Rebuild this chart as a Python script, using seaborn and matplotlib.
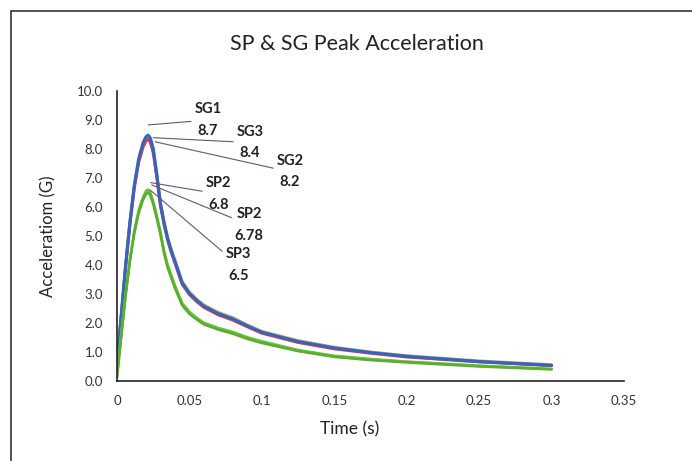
import numpy as np
import pandas as pd
import matplotlib
matplotlib.use("Agg")
import matplotlib.pyplot as plt
import seaborn as sns
from matplotlib.patches import Rectangle

# ---- data ----
time = [0.0, 0.003, 0.006, 0.009, 0.012, 0.015, 0.018, 0.02, 0.0215, 0.023, 0.025,
        0.0275, 0.03, 0.0325, 0.035, 0.0375, 0.04, 0.045, 0.05, 0.055, 0.06,
        0.07, 0.08, 0.09, 0.1, 0.125, 0.15, 0.175, 0.2, 0.25, 0.3]
sg1 = [0.60, 2.30, 4.00, 5.50, 6.75, 7.65, 8.20, 8.42, 8.48, 8.38, 8.00,
       7.10, 6.10, 5.45, 4.90, 4.48, 4.12, 3.38, 3.02, 2.78, 2.58,
       2.32, 2.14, 1.90, 1.68, 1.36, 1.14, 0.98, 0.85, 0.67, 0.54]
sg2 = [0.55, 2.25, 3.95, 5.45, 6.68, 7.55, 8.07, 8.28, 8.33, 8.24, 7.88,
       7.02, 6.05, 5.40, 4.85, 4.43, 4.07, 3.34, 2.98, 2.74, 2.54,
       2.28, 2.10, 1.87, 1.65, 1.33, 1.11, 0.96, 0.83, 0.66, 0.53]
sg3 = [0.58, 2.32, 4.03, 5.53, 6.78, 7.68, 8.22, 8.40, 8.45, 8.36, 8.02,
       7.14, 6.15, 5.50, 4.95, 4.53, 4.17, 3.43, 3.07, 2.82, 2.62,
       2.36, 2.18, 1.93, 1.71, 1.39, 1.16, 1.00, 0.87, 0.69, 0.56]
sp1 = [0.15, 1.60, 3.00, 4.20, 5.15, 5.85, 6.30, 6.50, 6.56, 6.45, 6.15,
       5.65, 5.10, 4.45, 3.95, 3.60, 3.25, 2.65, 2.35, 2.15, 1.98,
       1.80, 1.66, 1.48, 1.34, 1.05, 0.85, 0.74, 0.66, 0.52, 0.41]
sp2 = [0.18, 1.65, 3.05, 4.25, 5.20, 5.90, 6.35, 6.55, 6.60, 6.50, 6.20,
       5.70, 5.15, 4.50, 4.00, 3.65, 3.30, 2.69, 2.39, 2.18, 2.01,
       1.83, 1.69, 1.51, 1.37, 1.07, 0.87, 0.76, 0.67, 0.53, 0.42]
sp3 = [0.12, 1.55, 2.95, 4.15, 5.10, 5.80, 6.25, 6.44, 6.50, 6.40, 6.10,
       5.60, 5.05, 4.40, 3.90, 3.55, 3.20, 2.61, 2.31, 2.12, 1.95,
       1.77, 1.63, 1.45, 1.31, 1.03, 0.83, 0.72, 0.64, 0.50, 0.40]

series_names = ["SG3", "SG2", "SG1", "SP1", "SP2", "SP3"]
series_vals = [sg3, sg2, sg1, sp1, sp2, sp3]
series_colors = ["#c9a24e", "#e23a3a", "#2e66c8", "#8fd14f", "#6cbf3c", "#5aae2e"]

ann_labels = ["SG1\n8.7", "SG3\n8.4", "SG2\n8.2", "SP2\n6.8", "SP2\n6.78", "SP3\n6.5"]
ann_points = [(0.0216, 8.83), (0.025, 8.39), (0.0262, 8.25),
              (0.0233, 6.84), (0.024, 6.76), (0.0228, 6.59)]
ann_text = [(0.0627, 9.0), (0.0918, 8.22), (0.1194, 7.21),
            (0.0699, 6.45), (0.0913, 5.38), (0.0837, 4.0)]

x_ticks = [0, 0.05, 0.1, 0.15, 0.2, 0.25, 0.3, 0.35]
x_tick_labels = ["0", "0.05", "0.1", "0.15", "0.2", "0.25", "0.3", "0.35"]
y_ticks = [0, 1, 2, 3, 4, 5, 6, 7, 8, 9, 10]

# ---- build table ----
rows = []
for name, vals in zip(series_names, series_vals):
    for t, v in zip(time, vals):
        rows.append({"Time": t, "Acc": v, "Series": name})
df = pd.DataFrame(rows)

sns.set_theme(style="white")
plt.rcParams["font.family"] = ["Lato", "DejaVu Sans"]

fig = plt.figure(figsize=(6.92, 4.61), dpi=100)
ax = fig.add_axes([117/692, 1-381/461, (624-117)/692, (381-91)/461])

for name, color in zip(series_names, series_colors):
    lw = 2.2 if name.startswith("SG") else 1.8
    sns.lineplot(data=df[df["Series"] == name], x="Time", y="Acc", color=color,
                 lw=lw, ax=ax, legend=False, errorbar=None)

ax.set_xlim(0, 0.35)
ax.set_ylim(0, 10)
ax.set_xticks(x_ticks)
ax.set_xticklabels(x_tick_labels)
ax.set_yticks(y_ticks)
ax.set_yticklabels([f"{v:.1f}" for v in y_ticks])
ax.tick_params(axis="both", direction="in", length=4, width=1.1, colors="#222222",
               labelsize=9.5, labelcolor="#333333")
ax.tick_params(axis="x", pad=10)
ax.tick_params(axis="y", pad=10)
for s in ["top", "right"]:
    ax.spines[s].set_visible(False)
for s in ["left", "bottom"]:
    ax.spines[s].set_color("#222222")
    ax.spines[s].set_linewidth(1.2)
ax.set_xlabel("")
ax.set_ylabel("")

for lab, pt, tx in zip(ann_labels, ann_points, ann_text):
    ax.annotate(lab, xy=pt, xytext=tx, ha="center", va="center", fontsize=10.5,
                fontweight="bold", color="#222222", linespacing=1.65,
                arrowprops=dict(arrowstyle="-", color="#6e5566", lw=0.8,
                                shrinkA=0, shrinkB=0))

fig.text(357/692, 1-44/461, "SP & SG Peak Acceleration", ha="center", va="center",
         fontsize=15.5, color="#222222")
fig.text(350/692, 1-429/461, "Time (s)", ha="center", va="center",
         fontsize=12.5, color="#222222")
fig.text(48/692, 1-236/461, "Acceleratiom (G)", ha="center", va="center",
         rotation=90, fontsize=12, color="#222222")

fig.patches.append(Rectangle((11/692, -0.2), 1.2, 1-11/461+0.2,
                             transform=fig.transFigure, fill=False,
                             edgecolor="#333333", lw=1.2))

fig.savefig("out.png", dpi=100)
